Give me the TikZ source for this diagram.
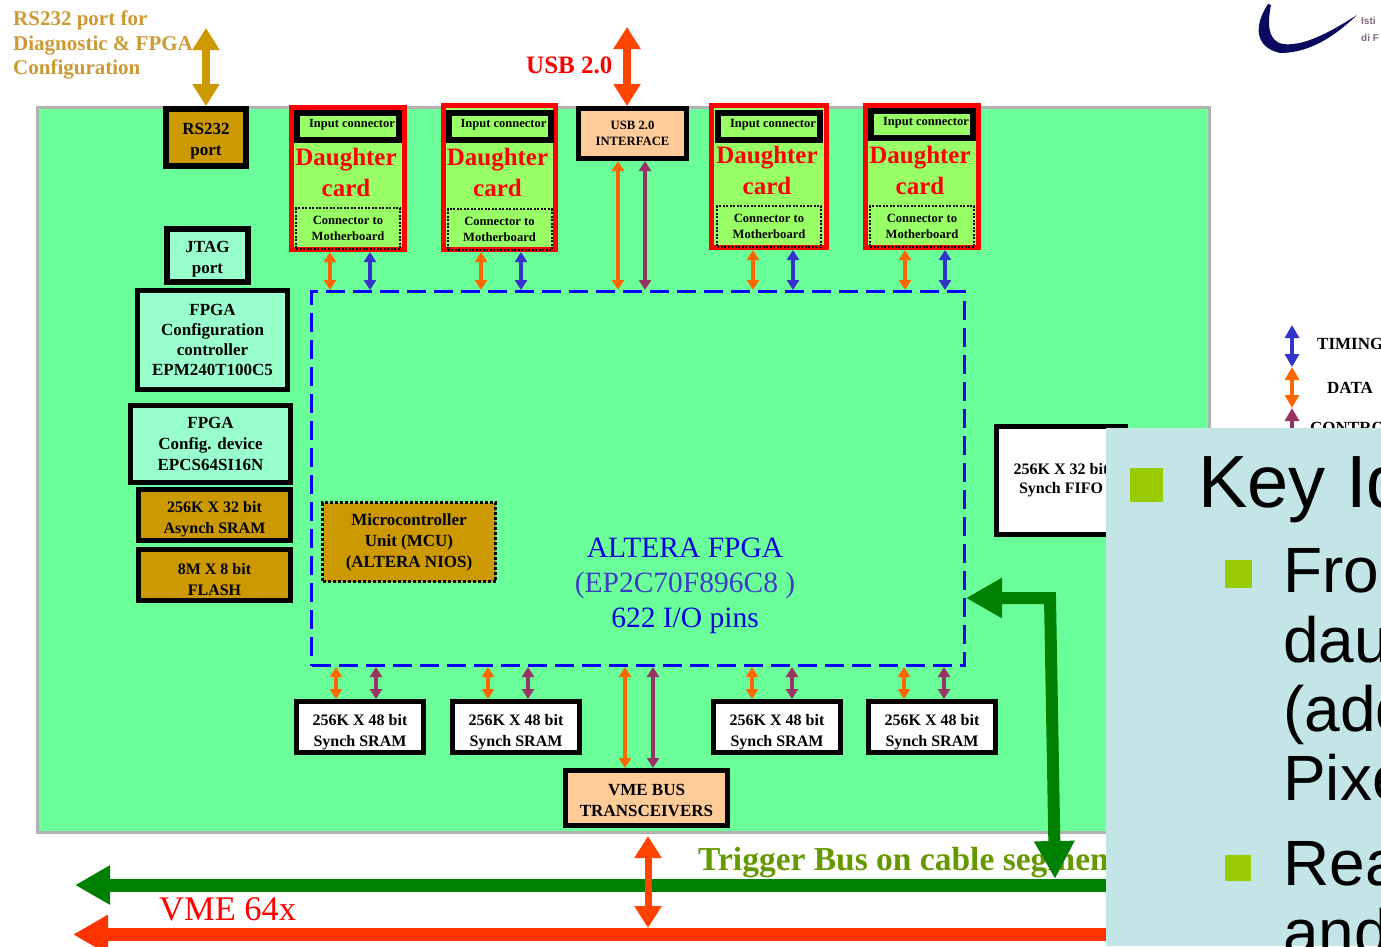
\documentclass[tikz,border=0pt]{standalone}
\usepackage{xcolor}
\usepackage{fontspec}
\setmainfont{Liberation Serif}
\setsansfont{Liberation Sans}
\definecolor{fundo}{RGB}{107,255,153}
\definecolor{ouro}{RGB}{204,153,0}
\definecolor{ourotxt}{RGB}{204,153,51}
\definecolor{aqua}{RGB}{153,255,204}
\definecolor{pele}{RGB}{255,204,153}
\definecolor{lima}{RGB}{153,255,102}
\definecolor{laranja}{RGB}{255,102,0}
\definecolor{roxo}{RGB}{153,51,102}
\definecolor{azulT}{RGB}{51,51,204}
\definecolor{azulD}{RGB}{0,0,255}
\definecolor{azulF}{RGB}{0,0,230}
\definecolor{azulG}{RGB}{60,60,200}
\definecolor{vivo}{RGB}{255,68,0}
\definecolor{vme}{RGB}{255,51,0}
\definecolor{verdeB}{RGB}{0,128,0}
\definecolor{oliva}{RGB}{102,153,0}
\definecolor{painel}{RGB}{195,229,232}
\definecolor{bala}{RGB}{153,204,0}
\definecolor{marinho}{RGB}{10,10,94}
\definecolor{logotxt}{RGB}{130,100,130}
\newcommand{\px}[2]{\fontsize{#1pt}{#2pt}\selectfont}
\usetikzlibrary{arrows.meta,positioning}

\begin{document}
\begin{tikzpicture}[x=1pt,y=-1pt,
            desce/.style={execute at begin node={\rule{0pt}{#1}}},
            caixa/.style={draw=black,line width=5pt,inner sep=0pt,align=center,
              font=\px{17}{21}\bfseries},
            sram/.style={caixa,fill=white,minimum width=127pt,minimum height=51pt,
              font=\px{16}{21}\bfseries,desce=42pt},
            gold/.style={caixa,fill=ouro,minimum width=152pt,minimum height=51pt,
              font=\px{16}{21}\bfseries,desce=41pt},
            filha/.style={draw=red,fill=lima,line width=5pt,inner sep=0pt},
            entrada/.style={draw=black,fill=lima,line width=6pt,inner sep=0pt,
              minimum width=102pt,minimum height=27pt,font=\px{12.5}{14}\bfseries,
              text depth=7pt,execute at begin node={\hspace*{8pt}}},
            filhatxt/.style={inner sep=0pt,align=center,text=red,font=\px{25}{31}\bfseries},
            ligacao/.style={draw=black,line width=2pt,dash pattern=on 2pt off 1.5pt,inner sep=0pt,
              minimum width=104pt,minimum height=41pt,align=center,font=\px{12.6}{16}\bfseries},
            setaO/.style={{Triangle[length=10pt,width=12pt]}-{Triangle[length=10pt,width=12pt]},
              laranja,line width=3.5pt},
            setaB/.style={{Triangle[length=10pt,width=12pt]}-{Triangle[length=10pt,width=12pt]},
              azulT,line width=3.5pt},
            setaR/.style={{Triangle[length=10pt,width=12pt]}-{Triangle[length=10pt,width=12pt]},
              roxo,line width=3.5pt},
            setaG/.style={{Triangle[length=22pt,width=26pt]}-{Triangle[length=22pt,width=26pt]},
              line width=8pt},
            barra/.style={-{Triangle[length=35pt,width=37pt]},line width=13pt},
            titulo/.style={inner sep=0pt,anchor=base west},
            bullet/.style={fill=bala,inner sep=0pt}
            ]
            \clip (0,0) rectangle (1381,946);
            \node[draw=black!30,fill=fundo,line width=3pt,inner sep=0pt,anchor=north west,
            minimum width=1172pt,minimum height=725pt] (placa) at (36,106) {};

            \node[titulo,text=ourotxt,font=\px{21}{24.5}\bfseries,align=left,anchor=north west]
            (rstxt) at (13,11) {RS232 port for\\Diagnostic \& FPGA\\Configuration};
            \node[titulo,text=red,font=\px{25}{30}\bfseries] (usbtxt) at (526,73) {USB 2.0};

            \node[caixa,fill=ouro,line width=6pt,minimum width=80pt,minimum height=57pt,
            desce=39pt,anchor=north west] (rs) at (163,106) {RS232\\port};
            \node[caixa,fill=aqua,line width=6pt,minimum width=81pt,minimum height=53pt,
            desce=39pt,anchor=north west] (jtag) at (164,226) {JTAG\\port};
            \node[caixa,fill=aqua,minimum width=150pt,minimum height=99pt,font=\px{17}{20.2}\bfseries,
            anchor=north west] (ctrl) at (135,288) {FPGA\\Configuration\\controller\\EPM240T100C5};
            \node[caixa,fill=aqua,minimum width=160pt,minimum height=77pt,
            anchor=north west] (cfg) at (128,403) {FPGA\\Config. device\\EPCS64SI16N};
            \node[gold,anchor=north west] (asram) at (136,487) {256K X 32 bit\\Asynch SRAM};
            \node[gold,below=4pt of asram] (flash) {8M X 8 bit\\FLASH};

            \node[draw=azulD,line width=3pt,dash pattern=on 19pt off 8pt,inner sep=0pt,
            minimum width=653pt,minimum height=374pt,anchor=north west] (fpga) at (310,290) {};
            \node[draw=black,fill=ouro,line width=3pt,dash pattern=on 3pt off 2pt,inner sep=0pt,
            minimum width=173pt,minimum height=79pt,align=center,font=\px{17}{21}\bfseries,
            anchor=north west] (mcu) at (321,501) {Microcontroller\\Unit (MCU)\\(ALTERA NIOS)};
            \node[inner sep=0pt,align=center,font=\px{29.5}{35}] (fpgatxt) at (685,586)
            {\textcolor{azulF}{ALTERA FPGA}\\\textcolor{azulG}{(EP2C70F896C8 )}\\\textcolor{azulF}{622 I/O pins}};

            \node[filha,minimum width=113pt,minimum height=142pt,anchor=north west] (cardA) at (289,105) {};
            \node[entrada,below=5pt of cardA.north] (inA) {Input connector};
            \node[filhatxt,below=5pt of inA,xshift=-2pt] (txtA) {Daughter\\card};
            \node[ligacao,above=2pt of cardA.south] (outA) {Connector to\\Motherboard};

            \node[filha,minimum width=112pt,minimum height=144pt,anchor=north west] (cardB) at (441,103) {};
            \node[entrada,below=7pt of cardB.north] (inB) {Input connector};
            \node[filhatxt,below=5pt of inB,xshift=-2pt] (txtB) {Daughter\\card};
            \node[ligacao,above=1pt of cardB.south] (outB) {Connector to\\Motherboard};

            \node[filha,minimum width=115pt,minimum height=142pt,anchor=north west] (cardC) at (709,103) {};
            \node[entrada,below=7pt of cardC.north] (inC) {Input connector};
            \node[filhatxt,below=3pt of inC,xshift=-2pt] (txtC) {Daughter\\card};
            \node[ligacao,above=2pt of cardC.south] (outC) {Connector to\\Motherboard};

            \node[filha,minimum width=113pt,minimum height=142pt,anchor=north west] (cardD) at (863,103) {};
            \node[entrada,below=5pt of cardD.north] (inD) {Input connector};
            \node[filhatxt,below=5pt of inD,xshift=-2pt] (txtD) {Daughter\\card};
            \node[ligacao,above=2pt of cardD.south] (outD) {Connector to\\Motherboard};

            \node[caixa,fill=pele,minimum width=108pt,minimum height=50pt,anchor=north west,
            font=\px{12.7}{16}\bfseries] (usb) at (576,106) {USB 2.0\\INTERFACE};

            \node[sram,anchor=north west] (memA) at (294,699) {256K X 48 bit\\Synch SRAM};
            \node[sram,right=24pt of memA] (memB) {256K X 48 bit\\Synch SRAM};
            \node[sram,right=129pt of memB] (memC) {256K X 48 bit\\Synch SRAM};
            \node[sram,right=23pt of memC] (memD) {256K X 48 bit\\Synch SRAM};
            \node[caixa,fill=pele,minimum width=162pt,minimum height=55pt,desce=37pt,anchor=north west]
            (vmebox) at (563,768) {VME BUS\\TRANSCEIVERS};
            \node[caixa,fill=white,minimum width=129pt,minimum height=108pt,anchor=north west,
            font=\px{16}{19}\bfseries] (fifo) at (994,424) {256K X 32 bit\\Synch FIFO};

            \draw[setaO] ([xshift=-18pt]cardA.south) -- ([xshift=-18pt]cardA.south |- fpga.north);
            \draw[setaB] ([xshift=22pt]cardA.south) -- ([xshift=22pt]cardA.south |- fpga.north);
            \draw[setaO] ([xshift=-18.5pt]cardB.south) -- ([xshift=-18.5pt]cardB.south |- fpga.north);
            \draw[setaB] ([xshift=21.5pt]cardB.south) -- ([xshift=21.5pt]cardB.south |- fpga.north);
            \draw[setaO] ([xshift=-16pt]cardC.south) -- ([xshift=-16pt]cardC.south |- fpga.north);
            \draw[setaB] ([xshift=24pt]cardC.south) -- ([xshift=24pt]cardC.south |- fpga.north);
            \draw[setaO] ([xshift=-17pt]cardD.south) -- ([xshift=-17pt]cardD.south |- fpga.north);
            \draw[setaB] ([xshift=23pt]cardD.south) -- ([xshift=23pt]cardD.south |- fpga.north);
            \draw[setaO] ([xshift=-14.5pt]usb.south) -- ([xshift=-14.5pt]usb.south |- fpga.north);
            \draw[setaR] ([xshift=12.5pt]usb.south) -- ([xshift=12.5pt]usb.south |- fpga.north);

            \draw[setaO] ([xshift=-24pt]memA.north) -- ([xshift=-24pt]memA.north |- fpga.south);
            \draw[setaR] ([xshift=16pt]memA.north) -- ([xshift=16pt]memA.north |- fpga.south);
            \draw[setaO] ([xshift=-28pt]memB.north) -- ([xshift=-28pt]memB.north |- fpga.south);
            \draw[setaR] ([xshift=12pt]memB.north) -- ([xshift=12pt]memB.north |- fpga.south);
            \draw[setaO] ([xshift=-25pt]memC.north) -- ([xshift=-25pt]memC.north |- fpga.south);
            \draw[setaR] ([xshift=15pt]memC.north) -- ([xshift=15pt]memC.north |- fpga.south);
            \draw[setaO] ([xshift=-28pt]memD.north) -- ([xshift=-28pt]memD.north |- fpga.south);
            \draw[setaR] ([xshift=12pt]memD.north) -- ([xshift=12pt]memD.north |- fpga.south);
            \draw[setaO] ([xshift=-21.5pt]vmebox.north) -- ([xshift=-21.5pt]vmebox.north |- fpga.south);
            \draw[setaR] ([xshift=6.5pt]vmebox.north) -- ([xshift=6.5pt]vmebox.north |- fpga.south);

            \coordinate (rsfim) at (206,28);
            \coordinate (usbfim) at (627,27);
            \draw[setaG,ouro] (rs.north -| rsfim) -- (rsfim);
            \draw[setaG,vivo] (usb.north -| usbfim) -- (usbfim);

            \node[titulo,text=oliva,font=\px{33.5}{38}\bfseries] (trigtxt) at (698,870) {Trigger Bus on cable segments};
            \node[titulo,text=red,font=\px{34.5}{40}] (vmetxt) at (159,920) {VME 64x};

            \coordinate (trigR) at (1110,885);
            \coordinate (trigL) at (75,885);
            \coordinate (vmeR) at (1110,934.5);
            \coordinate (vmeL) at (73,934.5);
            \coordinate (trigJ) at (1055,879);
            \coordinate (vmeJ) at (648,928);
            \draw[barra,verdeB] (trigR) -- (trigL);
            \draw[barra,vme] (vmeR) -- (vmeL);
            \draw[setaG,vivo,line width=7pt] (vmebox.south -| vmeJ) ++(0,8) -- (vmeJ);
            \draw[verdeB,line width=12pt,{Triangle[length=36pt,width=38pt]}-{Triangle[length=38pt,width=38pt]}]
            (fpga.east |- 0,598) -- (1050,598) -- (trigJ);

            \coordinate (legA) at (1292,325);
            \coordinate (legB) at (1292,367);
            \coordinate (legC) at (1292,408);
            \coordinate (legD) at (1292,450);
            \draw[setaB,{Triangle[length=13pt,width=14pt]}-{Triangle[length=13pt,width=14pt]}] (legA) -- (legB);
            \draw[setaO,{Triangle[length=13pt,width=14pt]}-{Triangle[length=13pt,width=14pt]}] (legB) -- (legC);
            \draw[setaR,{Triangle[length=13pt,width=14pt]}-{Triangle[length=13pt,width=14pt]}] (legC) -- (legD);
            \node[titulo,font=\px{17}{20}\bfseries] (legT) at (1317,349) {TIMING};
            \node[titulo,font=\px{17}{20}\bfseries] (legE) at (1327,393) {DATA};
            \node[titulo,font=\px{17}{20}\bfseries] (legK) at (1310,433) {CONTROL};

            \fill[marinho] (1268,4) .. controls (1254,25) and (1254,47) .. (1280,53)
            .. controls (1310,53) and (1335,36) .. (1357,15)
            .. controls (1335,29) and (1305,47) .. (1283,44)
            .. controls (1266,41) and (1268,20) .. (1271,5) -- cycle;
            \node[titulo,text=logotxt,font=\sffamily\px{10}{12}\bfseries] (logoA) at (1361,24) {Isti};
            \node[titulo,text=logotxt,font=\sffamily\px{10}{12}\bfseries] (logoB) at (1361,41) {di F};

            \node[fill=painel,inner sep=0pt,minimum width=275pt,minimum height=518pt,
            anchor=north west] (quadro) at (1106,428) {};
            \node[bullet,minimum width=33pt,minimum height=34pt,anchor=north west] (balaA) at (1130,468) {};
            \node[bullet,minimum width=27pt,minimum height=28pt,anchor=north west] (balaB) at (1225,560) {};
            \node[bullet,minimum width=26pt,minimum height=26pt,anchor=north west] (balaC) at (1225,855) {};
            \node[titulo,font=\sffamily\px{74}{80}] (key) at (1198,507) {Key Id};
            \node[titulo,font=\sffamily\px{64}{70}] (ln1) at (1283,592) {Fro};
            \node[titulo,font=\sffamily\px{64}{70}] (ln2) at (1283,662) {dau};
            \node[titulo,font=\sffamily\px{64}{70}] (ln3) at (1283,731) {(add};
            \node[titulo,font=\sffamily\px{64}{70}] (ln4) at (1283,800) {Pixe};
            \node[titulo,font=\sffamily\px{64}{70}] (ln5) at (1283,885) {Rea};
            \node[titulo,font=\sffamily\px{64}{70}] (ln6) at (1283,954) {and};
          \end{tikzpicture}
\end{document}
